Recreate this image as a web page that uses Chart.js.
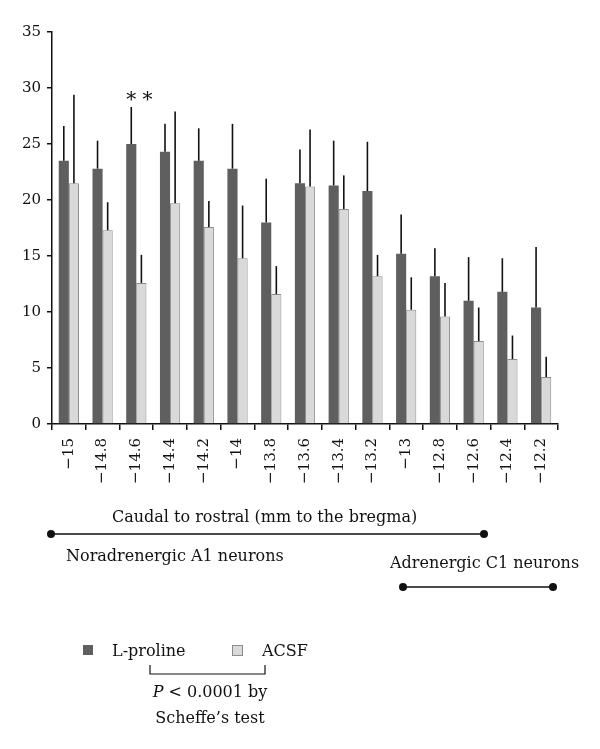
<!DOCTYPE html>
<html>
<head>
<meta charset="utf-8">
<script src="https://cdn.jsdelivr.net/npm/chart.js@4.4.1/dist/chart.umd.min.js"></script>
<style>
  html, body { margin: 0; padding: 0; background: #fff; }
  #wrap { position: relative; width: 600px; height: 749px; }
</style>
</head>
<body>
<div id="wrap"><canvas id="chart" width="600" height="749"></canvas></div>
<script>
// 위치 (mm to the bregma)
const positions = ["−15", "−14.8", "−14.6", "−14.4", "−14.2", "−14", "−13.8", "−13.6",
  "−13.4", "−13.2", "−13", "−12.8", "−12.6", "−12.4", "−12.2"];

// L-proline 평균 / 오차
const lProline = [23.5, 22.8, 25.0, 24.3, 23.5, 22.8, 18.0, 21.5, 21.3, 20.8, 15.2, 13.2, 11.0, 11.8, 10.4];
const lProlineErr = [3.1, 2.5, 3.3, 2.5, 2.9, 4.0, 3.9, 3.0, 4.0, 4.4, 3.5, 2.5, 3.9, 3.0, 5.4];

// ACSF 평균 / 오차
const acsf = [21.5, 17.3, 12.6, 19.7, 17.6, 14.8, 11.6, 21.2, 19.2, 13.2, 10.2, 9.6, 7.4, 5.8, 4.2];
const acsfErr = [7.9, 2.5, 2.5, 8.2, 2.3, 4.7, 2.5, 5.1, 3.0, 1.9, 2.9, 3.0, 3.0, 2.1, 1.8];

const yTicks = [0, 5, 10, 15, 20, 25, 30, 35];

const FONT = "'DejaVu Serif', 'Liberation Serif', serif";
const DARK = "#5f5f5f";
const LIGHT = "#d9d9d9";

// 위쪽 오차 막대 (캡 없음)
const errorBarPlugin = {
  id: "errorBars",
  afterDatasetsDraw(chart) {
    const { ctx } = chart;
    const yScale = chart.scales.y;
    ctx.save();
    ctx.strokeStyle = "#111";
    ctx.lineWidth = 1.6;
    chart.data.datasets.forEach((ds, di) => {
      const meta = chart.getDatasetMeta(di);
      meta.data.forEach((bar, i) => {
        const top = yScale.getPixelForValue(ds.data[i] + ds.errors[i]);
        ctx.beginPath();
        ctx.moveTo(bar.x, bar.y);
        ctx.lineTo(bar.x, top);
        ctx.stroke();
      });
    });
    ctx.restore();
  },
};

// 주석, 범례, 유의성 표시
const annotationPlugin = {
  id: "annotations",
  afterDraw(chart) {
    const { ctx } = chart;
    const xScale = chart.scales.x;
    const yScale = chart.scales.y;
    ctx.save();
    ctx.fillStyle = "#111";
    ctx.strokeStyle = "#111";

    // ** 표시 (−14.6)
    ctx.font = `20px ${FONT}`;
    ctx.textAlign = "center";
    ctx.textBaseline = "middle";
    ctx.fillText("* *", xScale.getPixelForValue(2) + 3, yScale.getPixelForValue(29.0) + 2);

    ctx.font = `16px ${FONT}`;
    ctx.textBaseline = "alphabetic";
    ctx.textAlign = "left";
    ctx.fillText("Caudal to rostral (mm to the bregma)", 112, 522);

    const dotLine = (x1, x2, y) => {
      ctx.lineWidth = 1.5;
      ctx.beginPath();
      ctx.moveTo(x1, y);
      ctx.lineTo(x2, y);
      ctx.stroke();
      [x1, x2].forEach((x) => {
        ctx.beginPath();
        ctx.arc(x, y, 4, 0, Math.PI * 2);
        ctx.fill();
      });
    };
    dotLine(51, 484, 534);
    ctx.fillText("Noradrenergic A1 neurons", 66, 561);
    ctx.fillText("Adrenergic C1 neurons", 390, 568);
    dotLine(403, 553, 587);

    // 범례
    ctx.fillStyle = DARK;
    ctx.fillRect(83, 645, 10, 10);
    ctx.fillStyle = LIGHT;
    ctx.fillRect(232, 645, 10, 10);
    ctx.strokeStyle = "#8c8c8c";
    ctx.lineWidth = 1;
    ctx.strokeRect(232.5, 645.5, 10, 10);
    ctx.fillStyle = "#111";
    ctx.fillText("L-proline", 112, 656);
    ctx.fillText("ACSF", 262, 656);

    // 브래킷
    ctx.strokeStyle = "#111";
    ctx.lineWidth = 1.2;
    ctx.beginPath();
    ctx.moveTo(150, 665);
    ctx.lineTo(150, 674);
    ctx.lineTo(265, 674);
    ctx.lineTo(265, 665);
    ctx.stroke();

    ctx.font = `italic 16px ${FONT}`;
    const pW = ctx.measureText("P").width;
    ctx.font = `16px ${FONT}`;
    const rest = " < 0.0001 by";
    const rW = ctx.measureText(rest).width;
    const startX = 210 - (pW + rW) / 2;
    ctx.textAlign = "left";
    ctx.font = `italic 16px ${FONT}`;
    ctx.fillText("P", startX, 697);
    ctx.font = `16px ${FONT}`;
    ctx.fillText(rest, startX + pW, 697);
    ctx.textAlign = "center";
    ctx.fillText("Scheffe’s test", 210, 723);
    ctx.restore();
  },
};

Chart.register(errorBarPlugin, annotationPlugin);

new Chart(document.getElementById("chart"), {
  type: "bar",
  data: {
    labels: positions,
    datasets: [
      {
        label: "L-proline",
        data: lProline,
        errors: lProlineErr,
        backgroundColor: DARK,
        borderColor: "#555",
        borderWidth: 0,
        categoryPercentage: 0.6,
        barPercentage: 1.0,
      },
      {
        label: "ACSF",
        data: acsf,
        errors: acsfErr,
        backgroundColor: LIGHT,
        borderColor: "#8c8c8c",
        borderWidth: 1,
        categoryPercentage: 0.6,
        barPercentage: 1.0,
      },
    ],
  },
  options: {
    responsive: false,
    animation: false,
    devicePixelRatio: 1,
    layout: { padding: { left: 0, top: 32, right: 42, bottom: 249 } },
    plugins: {
      legend: { display: false },
      tooltip: { enabled: false },
    },
    scales: {
      x: {
        grid: {
          offset: true,
          drawOnChartArea: false,
          drawTicks: true,
          tickLength: 6,
          color: "#111",
          lineWidth: 1.5,
        },
        border: { display: true, color: "#111", width: 1.5 },
        ticks: {
          color: "#111",
          font: { family: FONT, size: 15 },
          autoSkip: false,
          minRotation: 90,
          maxRotation: 90,
          padding: 8,
        },
        afterFit(scale) { scale.height = 76; },
      },
      y: {
        min: 0,
        max: 35,
        afterBuildTicks(scale) { scale.ticks = yTicks.map((v) => ({ value: v })); },
        grid: {
          drawOnChartArea: false,
          drawTicks: true,
          tickLength: 5,
          color: "#111",
          lineWidth: 1.5,
        },
        border: { display: true, color: "#111", width: 1.5 },
        ticks: {
          color: "#111",
          font: { family: FONT, size: 15 },
          padding: 6,
        },
        afterFit(scale) { scale.width = 52; },
      },
    },
  },
});
</script>
</body>
</html>
